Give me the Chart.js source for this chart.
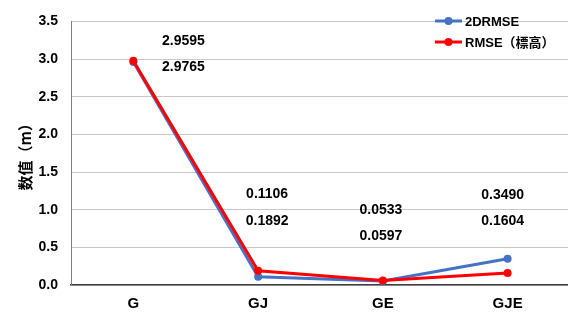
<!DOCTYPE html>
<html>
<head>
<meta charset="utf-8">
<script src="https://cdn.jsdelivr.net/npm/chart.js@4/dist/chart.umd.min.js"></script>
<style>
  html, body { margin: 0; padding: 0; background: #fff; overflow: hidden; }
  #wrap { width: 568px; height: 316px; overflow: hidden; }
</style>
</head>
<body>
<div id="wrap"><canvas id="c" width="574" height="316"></canvas></div>
<script>
// chart data
const categories = ['G', 'GJ', 'GE', 'GJE'];
const drmse2d = [2.9595, 0.1106, 0.0533, 0.3490];
const rmseHeight = [2.9765, 0.1892, 0.0597, 0.1604];
const seriesNames = ['2DRMSE', 'RMSE\uFF08\u6A19\u9AD8\uFF09'];
const yTicks = [0, 0.5, 1.0, 1.5, 2.0, 2.5, 3.0, 3.5];

const BLUE = '#4472C4';
const RED = '#FF0000';
const LATIN = "'Liberation Sans', Arial, sans-serif";

// value labels: per category [dx from point, y of first label, y of second label]
const labelSpots = [[50, 41, 67], [9, 194, 221], [-2, 210, 236], [-5, 195, 221]];

const extras = {
    id: 'extras',
    afterDatasetsDraw(chart) {
        const ctx = chart.ctx;
        const x = chart.scales.x;
        ctx.save();
        ctx.fillStyle = '#000';
        ctx.font = 'bold 14px ' + LATIN;
        ctx.textAlign = 'center';
        ctx.textBaseline = 'middle';
        categories.forEach((c, i) => {
            const px = x.getPixelForValue(i) + labelSpots[i][0];
            ctx.fillText(drmse2d[i].toFixed(4), px, labelSpots[i][1]);
            ctx.fillText(rmseHeight[i].toFixed(4), px, labelSpots[i][2]);
        });

        // legend with line + dot markers
        const colors = [BLUE, RED];
        ctx.font = 'bold 13px ' + LATIN + ", 'Noto Sans CJK JP'";
        ctx.textAlign = 'left';
        seriesNames.forEach((name, k) => {
            const ly = 21 + k * 21;
            ctx.strokeStyle = colors[k];
            ctx.lineWidth = 3;
            ctx.beginPath();
            ctx.moveTo(435, ly);
            ctx.lineTo(462, ly);
            ctx.stroke();
            ctx.fillStyle = colors[k];
            ctx.beginPath();
            ctx.arc(448.5, ly, 4, 0, Math.PI * 2);
            ctx.fill();
            ctx.fillStyle = '#000';
            ctx.fillText(name, 465, ly + 1);
        });
        ctx.restore();
    }
};

new Chart(document.getElementById('c'), {
    type: 'line',
    data: {
        labels: categories,
        datasets: [{
            label: seriesNames[0],
            data: drmse2d,
            borderColor: BLUE,
            backgroundColor: BLUE,
            borderWidth: 3,
            pointRadius: 4,
            pointBorderWidth: 0,
            pointHoverRadius: 4,
            tension: 0,
            order: 1
        }, {
            label: seriesNames[1],
            data: rmseHeight,
            borderColor: RED,
            backgroundColor: RED,
            borderWidth: 3,
            pointRadius: 4,
            pointBorderWidth: 0,
            pointHoverRadius: 4,
            tension: 0,
            order: 0
        }]
    },
    options: {
        responsive: false,
        animation: false,
        events: [],
        layout: { padding: { top: 15, right: 0, left: 0, bottom: 0 } },
        plugins: {
            legend: { display: false },
            tooltip: { enabled: false }
        },
        scales: {
            x: {
                offset: true,
                grid: { display: false, drawTicks: false },
                border: { color: '#404040', width: 1.5 },
                ticks: {
                    color: '#000',
                    font: { family: LATIN, size: 15, weight: 'bold' },
                    padding: 10
                },
                afterFit(s) {
                    s.height = 31;
                    s.paddingLeft = 0;
                    s.paddingRight = 0;
                }
            },
            y: {
                min: 0,
                max: 3.5,
                afterBuildTicks(s) { s.ticks = yTicks.map(v => ({ value: v })); },
                grid: { color: '#c8c8c8', drawTicks: false },
                border: { color: '#808080', width: 1 },
                ticks: {
                    color: '#000',
                    font: { family: LATIN, size: 14, weight: 'bold' },
                    padding: 13,
                    callback: v => v.toFixed(1)
                },
                title: {
                    display: true,
                    text: '\u6570\u503C\uFF08m\uFF09',
                    color: '#000',
                    font: { family: "'Noto Sans CJK SC', sans-serif", size: 15, weight: 'bold' },
                    padding: { top: 16, bottom: 0 }
                },
                afterFit(s) { s.width = 71; }
            }
        }
    },
    plugins: [extras]
});
</script>
</body>
</html>
